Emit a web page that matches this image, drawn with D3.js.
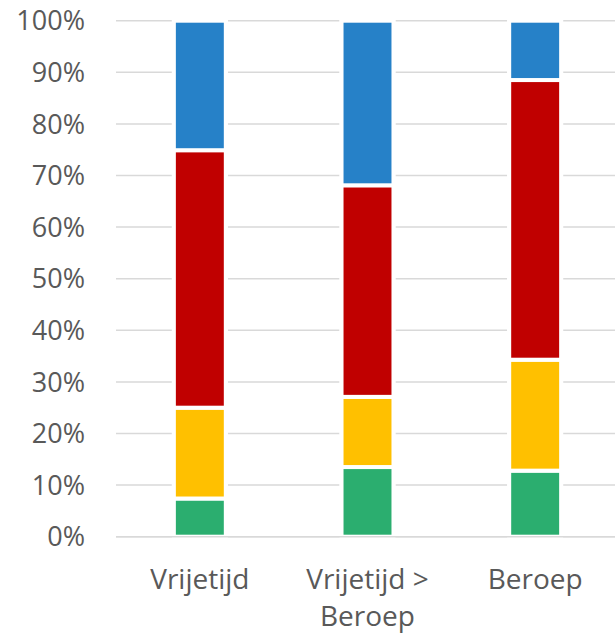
<!DOCTYPE html>
<html>
<head>
<meta charset="utf-8">
<script src="https://cdn.jsdelivr.net/npm/d3@7"></script>
<style>
  body { margin: 0; background: #fff; }
  text { font-family: "Open Sans", "Noto Sans", sans-serif; fill: #595959; }
</style>
</head>
<body>
<script>
var width = 615;
var height = 634;

// data
var categories = ["Vrijetijd", "Vrijetijd > Beroep", "Beroep"];
var categoryLines = [["Vrijetijd"], ["Vrijetijd >", "Beroep"], ["Beroep"]];
var series = ["groen", "geel", "rood", "blauw"];
var colors = ["#2bae6f", "#ffc000", "#c00000", "#2681c8"];
var groen = [7.4, 13.5, 12.8];
var geel = [17.6, 13.6, 21.5];
var rood = [49.9, 41.0, 54.2];
var blauw = [25.1, 31.9, 11.5];
var yTicks = [0, 10, 20, 30, 40, 50, 60, 70, 80, 90, 100];

var values = [groen, geel, rood, blauw];

var margin = {left: 116, right: -4, top: 20.7, bottom: 97.3};

var svg = d3.select("body")
    .append("svg")
    .attr("width", width)
    .attr("height", height);

var x = d3.scaleBand()
    .domain(categories)
    .range([margin.left, width - margin.right])
    .paddingInner(0.714)
    .paddingOuter(0.357);

var y = d3.scaleLinear()
    .domain([0, 100])
    .range([height - margin.bottom, margin.top]);

// gridlines
svg.append("g")
    .selectAll("line")
    .data(yTicks)
    .enter()
    .append("line")
    .attr("x1", margin.left)
    .attr("x2", width)
    .attr("y1", function(d){ return y(d); })
    .attr("y2", function(d){ return y(d); })
    .attr("stroke", "#d9d9d9")
    .attr("stroke-width", 1.5);

// y labels
svg.append("g")
    .selectAll("text")
    .data(yTicks)
    .enter()
    .append("text")
    .attr("x", 85)
    .attr("y", function(d){ return y(d); })
    .attr("dy", "0.36em")
    .attr("text-anchor", "end")
    .style("font-size", "27px")
    .text(function(d){ return d + "%"; });

// stack
var rows = categories.map(function(c, i){
    var r = {cat: c};
    series.forEach(function(s, j){ r[s] = values[j][i]; });
    return r;
});
var stacked = d3.stack().keys(series)(rows);

// white backing behind each bar (gap in gridlines)
svg.append("g")
    .selectAll("rect")
    .data(rows)
    .enter()
    .append("rect")
    .attr("x", function(d){ return x(d.cat) - 4; })
    .attr("width", x.bandwidth() + 8)
    .attr("y", y(100) - 1)
    .attr("height", y(0) - y(100) + 1)
    .attr("fill", "#fff");

var layers = svg.append("g")
    .selectAll("g")
    .data(stacked)
    .enter()
    .append("g")
    .attr("fill", function(d, i){ return colors[i]; });

layers.selectAll("rect")
    .data(function(d){ return d; })
    .enter()
    .append("rect")
    .attr("x", function(d){ return x(d.data.cat) - 2; })
    .attr("width", x.bandwidth() + 4)
    .attr("y", function(d){ return y(d[1]); })
    .attr("height", function(d){ return y(d[0]) - y(d[1]); })
    .attr("stroke", "#fff")
    .attr("stroke-width", 4);

// baseline
svg.append("line")
    .attr("x1", margin.left)
    .attr("x2", width)
    .attr("y1", y(0))
    .attr("y2", y(0))
    .attr("stroke", "#d9d9d9")
    .attr("stroke-width", 1.5);

// category labels
var labels = svg.append("g")
    .selectAll("text")
    .data(categories)
    .enter()
    .append("text")
    .attr("x", function(d){ return x(d) + x.bandwidth() / 2; })
    .attr("y", 589)
    .attr("text-anchor", "middle")
    .style("font-size", "28px");

labels.each(function(d, i){
    var t = d3.select(this);
    categoryLines[i].forEach(function(line, k){
        t.append("tspan")
            .attr("x", x(d) + x.bandwidth() / 2)
            .attr("dy", k === 0 ? 0 : 37)
            .text(line);
    });
});
</script>
</body>
</html>
